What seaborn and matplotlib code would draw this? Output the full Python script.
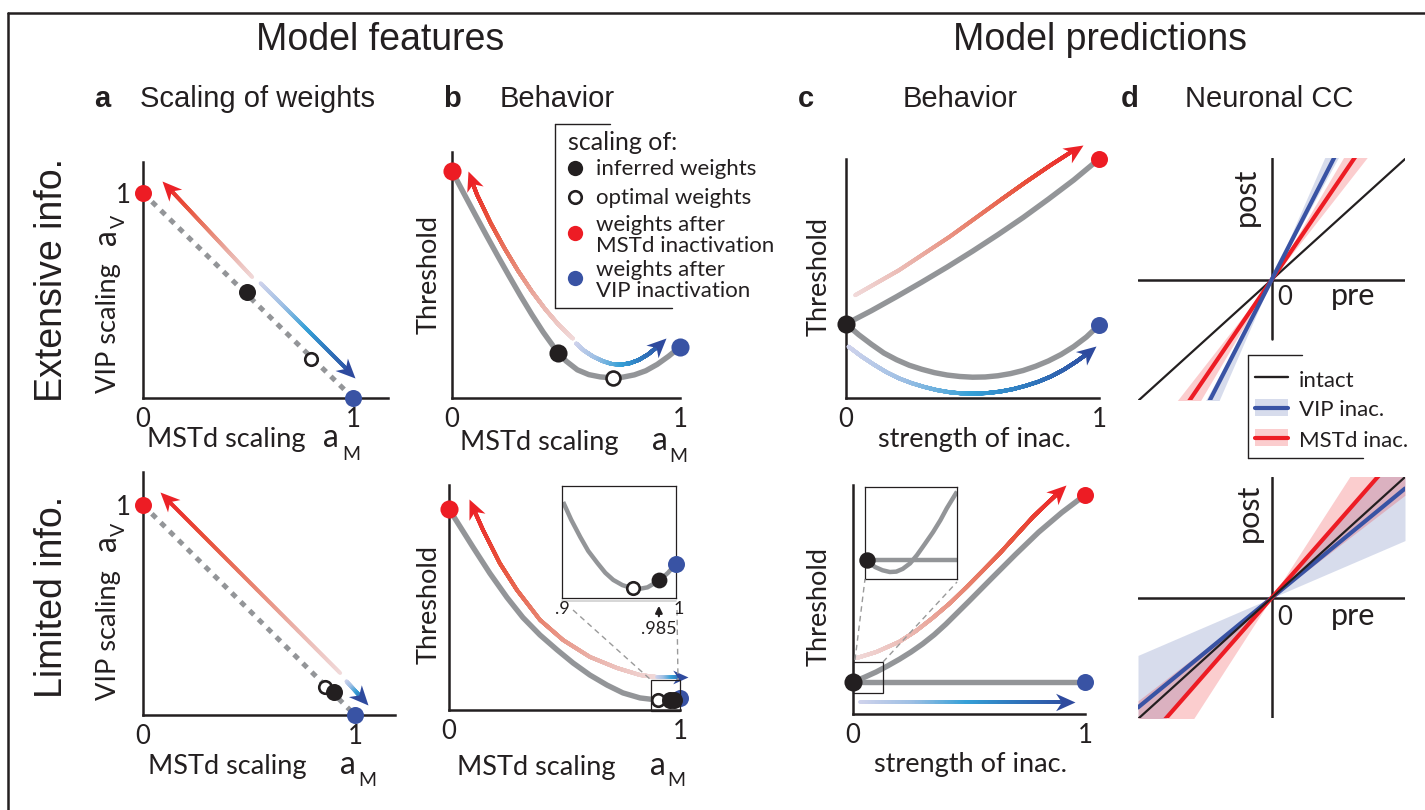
import numpy as np
import matplotlib
matplotlib.use("Agg")
import matplotlib.pyplot as plt
import seaborn as sns
from matplotlib.collections import LineCollection
from matplotlib.colors import LinearSegmentedColormap
from matplotlib.lines import Line2D
from matplotlib.markers import MarkerStyle
from matplotlib.patches import Rectangle, FancyArrowPatch
from matplotlib.path import Path
from matplotlib.transforms import Affine2D

# ========================= DATA =========================
# Panel a: scaling of weights (x = MSTd scaling a_M, y = VIP scaling a_V)
a_line_x = [0.0, 1.0]
a_line_y = [1.0, 0.0]
a_mstd_inac = [0.0, 1.0]
a_vip_inac = [1.0, 0.0]
a_top_inferred = [0.495, 0.515]
a_top_optimal = [0.80, 0.19]
a_top_red_x = [0.52, 0.09]
a_top_red_y = [0.59, 1.06]
a_top_blue_x = [0.56, 1.01]
a_top_blue_y = [0.56, 0.10]
a_bot_inferred = [0.90, 0.11]
a_bot_optimal = [0.86, 0.135]
a_bot_red_x = [0.93, 0.08]
a_bot_red_y = [0.20, 1.06]
a_bot_blue_x = [0.96, 1.06]
a_bot_blue_y = [0.16, 0.05]

# Panel b: threshold vs MSTd scaling
b_top_curve_x = [0.0, 0.05, 0.10, 0.15, 0.20, 0.25, 0.30, 0.35, 0.40, 0.45, 0.50,
                 0.55, 0.60, 0.65, 0.70, 0.75, 0.80, 0.85, 0.90, 0.95, 1.0]
b_top_curve_y = [1.0, 0.905, 0.811, 0.718, 0.627, 0.538, 0.451, 0.368, 0.29, 0.22, 0.163,
                 0.124, 0.103, 0.093, 0.089, 0.092, 0.102, 0.12, 0.148, 0.184, 0.225]
b_top_mstd = [0.0, 1.0]
b_top_vip = [1.0, 0.225]
b_top_inferred = [0.466, 0.2]
b_top_optimal = [0.708, 0.089]
b_top_red_x = [0.53, 0.47, 0.41, 0.35, 0.29, 0.23, 0.17, 0.11, 0.07]
b_top_red_y = [0.262, 0.32, 0.39, 0.47, 0.56, 0.66, 0.77, 0.895, 1.0]
b_top_blue_x = [0.545, 0.58, 0.62, 0.66, 0.70, 0.74, 0.78, 0.82, 0.86, 0.90, 0.94]
b_top_blue_y = [0.24, 0.208, 0.182, 0.163, 0.15, 0.147, 0.153, 0.168, 0.192, 0.225, 0.265]

b_bot_curve_x = [0.0, 0.104, 0.177, 0.251, 0.32, 0.394, 0.468, 0.537, 0.61, 0.684, 0.753, 0.827, 0.9, 1.0]
b_bot_curve_y = [1.0, 0.81, 0.68, 0.56, 0.46, 0.373, 0.299, 0.234, 0.174, 0.124, 0.085, 0.06, 0.05, 0.05]
b_bot_mstd = [0.0, 1.0]
b_bot_vip = [1.0, 0.06]
b_bot_optimal = [0.905, 0.05]
b_bot_inferred_x = [0.955, 0.972]
b_bot_inferred_y = [0.05, 0.05]
b_bot_red_x = [0.90, 0.827, 0.727, 0.61, 0.494, 0.394, 0.294, 0.22, 0.147, 0.087]
b_bot_red_y = [0.164, 0.174, 0.209, 0.264, 0.348, 0.448, 0.597, 0.73, 0.896, 1.05]
b_bot_blue_x = [0.90, 1.035]
b_bot_blue_y = [0.164, 0.164]

# inset of panel b (a_M between .9 and 1)
b_inset_x = [0.901, 0.908, 0.916, 0.923, 0.931, 0.938, 0.945, 0.953, 0.961, 0.968, 0.975, 0.986, 0.993, 0.999]
b_inset_y = [0.857, 0.70, 0.545, 0.42, 0.313, 0.225, 0.161, 0.115, 0.089, 0.082, 0.095, 0.161, 0.225, 0.295]
b_inset_optimal = [0.962, 0.089]
b_inset_inferred = [0.985, 0.16]
b_inset_vip = [1.0, 0.30]
b_inset_ticks = [0.9, 1.0]
b_inset_ticklabels = [".9", "1"]
b_inset_mark = 0.985

# Panel c: threshold vs strength of inactivation
c_top_up_x = [0.0, 0.1, 0.2, 0.3, 0.4, 0.5, 0.6, 0.7, 0.8, 0.9, 1.0]
c_top_up_y = [0.31, 0.365, 0.424, 0.485, 0.548, 0.614, 0.683, 0.755, 0.832, 0.912, 1.0]
c_top_low_x = [0.0, 0.05, 0.1, 0.15, 0.2, 0.25, 0.3, 0.35, 0.4, 0.45, 0.5,
               0.55, 0.6, 0.65, 0.7, 0.75, 0.8, 0.85, 0.9, 0.95, 1.0]
c_top_low_y = [0.31, 0.265, 0.225, 0.188, 0.16, 0.137, 0.12, 0.106, 0.096, 0.09, 0.087,
               0.088, 0.093, 0.102, 0.115, 0.133, 0.155, 0.182, 0.215, 0.255, 0.305]
c_top_intact = [0.0, 0.31]
c_top_mstd = [1.0, 1.0]
c_top_vip = [1.0, 0.305]
c_top_red_x = [0.036, 0.21, 0.41, 0.61, 0.71, 0.81, 0.935]
c_top_red_y = [0.43, 0.535, 0.675, 0.828, 0.903, 0.975, 1.06]
c_top_blue_x = [0.01, 0.06, 0.11, 0.16, 0.21, 0.26, 0.31, 0.36, 0.41, 0.46, 0.51,
                0.56, 0.61, 0.66, 0.71, 0.76, 0.81, 0.86, 0.91, 0.96, 0.99]
c_top_blue_y = [0.215, 0.175, 0.14, 0.108, 0.082, 0.062, 0.046, 0.033, 0.024, 0.019, 0.018,
                0.021, 0.027, 0.037, 0.051, 0.068, 0.09, 0.118, 0.152, 0.19, 0.218]

c_bot_up_x = [0.0, 0.05, 0.1, 0.15, 0.2, 0.25, 0.3, 0.35, 0.4, 0.5, 0.6, 0.7, 0.8, 0.9, 1.0]
c_bot_up_y = [0.146, 0.168, 0.192, 0.22, 0.25, 0.283, 0.32, 0.362, 0.41, 0.515, 0.622, 0.728, 0.83, 0.92, 1.0]
c_bot_flat_x = [0.0, 1.0]
c_bot_flat_y = [0.146, 0.146]
c_bot_intact = [0.0, 0.146]
c_bot_mstd = [1.0, 1.0]
c_bot_vip = [1.0, 0.146]
c_bot_red_x = [0.017, 0.1, 0.2, 0.27, 0.345, 0.42, 0.49, 0.56, 0.634, 0.705, 0.776, 0.85, 0.92]
c_bot_red_y = [0.256, 0.283, 0.33, 0.378, 0.44, 0.508, 0.58, 0.655, 0.735, 0.818, 0.90, 0.975, 1.045]
c_bot_blue_x = [0.03, 0.957]
c_bot_blue_y = [0.055, 0.055]

# inset of panel c (zoom near strength 0)
c_inset_flat_x = [0.02, 1.0]
c_inset_flat_y = [0.21, 0.21]
c_inset_curve_x = [0.02, 0.07, 0.11, 0.19, 0.27, 0.34, 0.41, 0.49, 0.565, 0.65, 0.74, 0.82, 0.89, 1.0]
c_inset_curve_y = [0.21, 0.16, 0.13, 0.095, 0.076, 0.08, 0.11, 0.17, 0.26, 0.38, 0.51, 0.64, 0.77, 0.95]
c_inset_intact = [0.02, 0.21]

# Panel d: neuronal CC, slopes of post vs pre
d_pre = [-1.0, 0.0, 1.0]
d_top_slope = {"intact": 0.906, "vip": 1.95, "mstd": 1.47}
d_top_band = {"vip": (1.83, 2.3), "mstd": (1.28, 1.70)}
d_bot_slope = {"intact": 0.906, "vip": 0.82, "mstd": 1.14}
d_bot_band = {"vip": (0.43, 1.14), "mstd": (0.77, 1.55)}

legend_b_labels = ["inferred weights", "optimal weights",
                   "weights after\nMSTd inactivation", "weights after\nVIP inactivation"]
legend_d_labels = ["intact", "VIP inac.", "MSTd inac."]

# ========================= STYLE =========================
W, H, DPI = 1425, 810, 100
GRAY = "#939598"
BLACK = "#231f20"
RED = "#ed1c24"
BLUE = "#3953a4"
RED_CM = LinearSegmentedColormap.from_list(
    "redgrad", ["#f1dada", "#eab3ab", "#e8826e", "#e8503a", "#ec2227"])
BLUE_CM = LinearSegmentedColormap.from_list(
    "bluegrad", ["#d0d3ec", "#9dbfe4", "#35a0d7", "#2f72ba", "#2e4a9e"])

sns.set_theme(style="white")
plt.rcParams["font.family"] = ["Lato", "DejaVu Sans"]
plt.rcParams["text.color"] = BLACK
HELV = ["Liberation Sans", "DejaVu Sans"]

fig = plt.figure(figsize=(W / DPI, H / DPI), dpi=DPI)
fig.patch.set_facecolor("white")


def fx(x):
    return x / W


def fy(y):
    return 1 - y / H


def px_axes(x0, y0, x1, y1):
    return fig.add_axes([x0 / W, 1 - y1 / H, (x1 - x0) / W, (y1 - y0) / H])


def ftext(x, y, s, **kw):
    kw.setdefault("ha", "center")
    kw.setdefault("va", "center")
    return fig.text(fx(x), fy(y), s, **kw)


def fline(xs, ys, **kw):
    kw.setdefault("color", BLACK)
    fig.add_artist(Line2D([fx(v) for v in xs], [fy(v) for v in ys],
                          transform=fig.transFigure, **kw))


def frect(x0, y0, x1, y1, **kw):
    fig.add_artist(Rectangle((fx(x0), fy(y1)), (x1 - x0) / W, (y1 - y0) / H,
                             transform=fig.transFigure, **kw))


def style_axes(ax, xlim, ylim, xticks=(0, 1), yticks=()):
    ax.set_xlim(*xlim)
    ax.set_ylim(*ylim)
    ax.set_autoscale_on(False)
    ax.set_facecolor("none")
    for s in ("top", "right"):
        ax.spines[s].set_visible(False)
    for s in ("left", "bottom"):
        ax.spines[s].set_linewidth(1.8)
        ax.spines[s].set_color(BLACK)
    ax.set_xticks(list(xticks))
    ax.set_xticklabels([f"{v:g}" for v in xticks])
    ax.set_yticks(list(yticks))
    ax.set_yticklabels([f"{v:g}" for v in yticks])
    ax.tick_params(axis="x", length=0, pad=6.5, labelsize=18.5, colors=BLACK)
    ax.tick_params(axis="y", length=0, pad=9, labelsize=18.5, colors=BLACK)
    ax.set_xlabel("")
    ax.set_ylabel("")


def gray_curve(ax, xs, ys, lw=3.9, z=2):
    sns.lineplot(x=xs, y=ys, ax=ax, color=GRAY, linewidth=lw, sort=False,
                 estimator=None, zorder=z, solid_capstyle="butt", solid_joinstyle="round")


def dot(ax, xy, color, s=150, z=6):
    sns.scatterplot(x=[xy[0]], y=[xy[1]], ax=ax, color=color, s=s,
                    linewidth=0, zorder=z, clip_on=False, legend=False)


def open_dot(ax, xy, ms=9.5, z=6):
    ax.plot([xy[0]], [xy[1]], ls="none", marker="o", ms=ms, mfc="white",
            mec=BLACK, mew=1.9, zorder=z, clip_on=False)


HEAD = Path([(0, 0), (-1.6, 0.72), (-1.12, 0), (-1.6, -0.72), (0, 0)],
            [Path.MOVETO, Path.LINETO, Path.LINETO, Path.LINETO, Path.CLOSEPOLY])


def grad_arrow(ax, xs, ys, cmap, lw=2.8, head=True, hs=28):
    xs = np.asarray(xs, float)
    ys = np.asarray(ys, float)
    t = np.linspace(0, 1, 150, endpoint=False)
    px = np.concatenate([xs[i] + (xs[i + 1] - xs[i]) * t for i in range(len(xs) - 1)] + [xs[-1:]])
    py = np.concatenate([ys[i] + (ys[i + 1] - ys[i]) * t for i in range(len(ys) - 1)] + [ys[-1:]])
    pts = np.column_stack([px, py])
    disp = ax.transData.transform(pts)
    d = np.concatenate([[0], np.cumsum(np.hypot(*np.diff(disp, axis=0).T))])
    L = d[-1]
    trim = 0.3 * hs * DPI / 72 if head else 0
    keep = d <= L - trim
    p = pts[keep]
    f = d[keep] / L
    segs = np.stack([p[:-1], p[1:]], axis=1)
    cols = cmap(0.5 * (f[:-1] + f[1:]))
    lc = LineCollection(segs, colors=cols, linewidths=lw, capstyle="round",
                        clip_on=False, zorder=3)
    ax.add_collection(lc)
    if head:
        j = np.searchsorted(d, L - 16)
        v = disp[-1] - disp[j]
        ang = np.degrees(np.arctan2(v[1], v[0]))
        mk = MarkerStyle(HEAD, transform=Affine2D().rotate_deg(ang))
        ax.plot([xs[-1]], [ys[-1]], ls="none", marker=mk, ms=hs, mfc=cmap(1.0),
                mec="none", mew=0, clip_on=False, zorder=4)


# ========================= FRAME & TITLES =========================
fline([8, 1425], [13, 13], lw=1.8)
fline([8, 8], [13, 810], lw=1.8)

ftext(380, 40, "Model features", size=27, family=HELV)
ftext(1100, 40, "Model predictions", size=27, family=HELV)
for letter, lx, title, tx in (("a", 102, "Scaling of weights", 140),
                              ("b", 452, "Behavior", 500),
                              ("c", 806, "Behavior", 903),
                              ("d", 1130, "Neuronal CC", 1185)):
    ftext(lx, 107, letter, va="baseline", size=21, weight="bold", family=HELV)
    ftext(tx, 107, title, ha="left", va="baseline", size=21, family=HELV)

ftext(62, 280, "Extensive info.", rotation=90, rotation_mode="anchor",
      va="baseline", size=27, family=HELV)
ftext(62, 597, "Limited info.", rotation=90, rotation_mode="anchor",
      va="baseline", size=27, family=HELV)

# ========================= PANEL a =========================
for (y0, y1, xend, sc_x, sc_y, inf, opt, rx, ry, bx, by) in (
        (162, 398, 388, 210, 205, a_top_inferred, a_top_optimal,
         a_top_red_x, a_top_red_y, a_top_blue_x, a_top_blue_y),
        (472, 715, 395, 212, 210, a_bot_inferred, a_bot_optimal,
         a_bot_red_x, a_bot_red_y, a_bot_blue_x, a_bot_blue_y)):
    ax = px_axes(143, y0, xend, y1)
    style_axes(ax, (0, (xend - 143) / sc_x), (0, (y1 - y0) / sc_y), yticks=(1,))
    ax.plot(a_line_x, a_line_y, color=GRAY, lw=3.6, ls=(0, (1.2, 1.3)),
            solid_capstyle="butt", zorder=2)
    open_dot(ax, opt, ms=9)
    dot(ax, inf, BLACK)
    dot(ax, a_mstd_inac, RED)
    dot(ax, a_vip_inac, BLUE)
    style_axes(ax, (0, (xend - 143) / sc_x), (0, (y1 - y0) / sc_y), yticks=(1,))
    grad_arrow(ax, rx, ry, RED_CM)
    grad_arrow(ax, bx, by, BLUE_CM)

for base, sub, xs, xa, xm, vb, vy, ay, vsy in ((447, 460, 147, 323, 342, 116, 328, 237, 221),
                                              (774, 786, 148, 340, 358, 116, 635, 543, 529)):
    ftext(xs, base, "MSTd scaling", ha="left", va="baseline", size=19.5)
    ftext(xa, base, "a", ha="left", va="baseline", size=23)
    ftext(xm, sub, "M", ha="left", va="baseline", size=14)
    ftext(vb, vy, "VIP scaling", rotation=90, rotation_mode="anchor", va="baseline", size=19.5)
    ftext(vb, ay, "a", rotation=90, rotation_mode="anchor", va="baseline", size=23)
    ftext(vb + 9, vsy, "V", rotation=90, rotation_mode="anchor", va="baseline", size=14)

# ========================= PANEL b =========================
ax = px_axes(452, 152, 680, 398)
style_axes(ax, (0, 1), (0, 246 / 227))
gray_curve(ax, b_top_curve_x, b_top_curve_y)
dot(ax, b_top_inferred, BLACK, s=170)
open_dot(ax, b_top_optimal, ms=10)
dot(ax, b_top_mstd, RED, s=170)
dot(ax, b_top_vip, BLUE, s=170)
style_axes(ax, (0, 1), (0, 246 / 227))
grad_arrow(ax, b_top_red_x, b_top_red_y, RED_CM)
grad_arrow(ax, b_top_blue_x, b_top_blue_y, BLUE_CM)

ax = px_axes(449, 485, 680, 710)
style_axes(ax, (0, 1), (0, 225 / 201))
gray_curve(ax, b_bot_curve_x, b_bot_curve_y)
open_dot(ax, b_bot_optimal, ms=9)
for xv, yv in zip(b_bot_inferred_x, b_bot_inferred_y):
    dot(ax, [xv, yv], BLACK, s=150)
dot(ax, b_bot_vip, BLUE, s=150, z=5)
dot(ax, b_bot_mstd, RED, s=170)
style_axes(ax, (0, 1), (0, 225 / 201))
grad_arrow(ax, b_bot_red_x, b_bot_red_y, RED_CM)
grad_arrow(ax, b_bot_blue_x, b_bot_blue_y, BLUE_CM, hs=22)

# inset in panel b
axi = px_axes(562, 486, 676, 598)
axi.set_xlim(0.9, 1.0)
axi.set_ylim(0, 1)
axi.set_autoscale_on(False)
gray_curve(axi, b_inset_x, b_inset_y, lw=3.2)
open_dot(axi, b_inset_optimal, ms=9)
dot(axi, b_inset_inferred, BLACK, s=130)
dot(axi, b_inset_vip, BLUE, s=150)
axi.set_xlim(0.9, 1.0)
axi.set_ylim(0, 1)
axi.set_xticks([])
axi.set_yticks([])
axi.set_xlabel("")
axi.set_ylabel("")
for s in axi.spines.values():
    s.set_linewidth(0.9)
    s.set_color(BLACK)
fline([562, 676], [601, 601], color="#cfcfcf", lw=1.2)
for tv, tl in zip(b_inset_ticks, b_inset_ticklabels):
    ftext(562 + (tv - 0.9) / 0.1 * 114 + (0 if tv < 1 else 3), 609, tl, size=13)
mx = 562 + (b_inset_mark - 0.9) / 0.1 * 114
fig.add_artist(FancyArrowPatch((fx(mx), fy(619)), (fx(mx), fy(603)), transform=fig.transFigure,
                               arrowstyle="-|>", mutation_scale=10, lw=1.6, color=BLACK))
ftext(mx, 629, ".985", size=13)
frect(651, 680, 680, 711, fill=False, ec=BLACK, lw=0.9, zorder=1)
fline([573, 651], [610, 680], color="#9a9a9a", lw=1.0, ls=(0, (4, 3)))
fline([677, 678], [610, 680], color="#9a9a9a", lw=1.0, ls=(0, (4, 3)))

# legend of panel b
fline([555, 610], [124, 124], lw=1.0)
fline([555, 555], [124, 308], lw=1.0)
fline([555, 672], [308, 308], lw=1.0)
ftext(568, 150, "scaling of:", ha="left", va="baseline", size=18)
leg_y = [168, 197, 233, 278]
leg_base = [[175], [204], [231, 252], [276, 297]]
for i, (lab, yy, bases) in enumerate(zip(legend_b_labels, leg_y, leg_base)):
    if i == 1:
        fig.add_artist(Line2D([fx(575)], [fy(yy)], ls="none", marker="o", ms=9, mfc="white",
                              mec=BLACK, mew=1.9, transform=fig.transFigure))
    else:
        fig.add_artist(Line2D([fx(575)], [fy(yy)], ls="none", marker="o", ms=11,
                              mfc=[BLACK, None, RED, BLUE][i], mec="none",
                              transform=fig.transFigure))
    for line, b in zip(lab.split("\n"), bases):
        ftext(596, b, line, ha="left", va="baseline", size=16)

for base, sub, xs, xa, xm in ((450, 462, 460, 652, 669), (775, 786, 457, 650, 667)):
    ftext(xs, base, "MSTd scaling", ha="left", va="baseline", size=19.5)
    ftext(xa, base, "a", ha="left", va="baseline", size=23)
    ftext(xm, sub, "M", ha="left", va="baseline", size=14)
ftext(437, 275, "Threshold", rotation=90, rotation_mode="anchor", va="baseline", size=19.5)
ftext(437, 605, "Threshold", rotation=90, rotation_mode="anchor", va="baseline", size=19.5)

# ========================= PANEL c =========================
ax = px_axes(846, 159, 1099, 398)
style_axes(ax, (0, 1), (0, 1))
gray_curve(ax, c_top_up_x, c_top_up_y)
gray_curve(ax, c_top_low_x, c_top_low_y)
dot(ax, c_top_intact, BLACK, s=170)
dot(ax, c_top_mstd, RED, s=150)
dot(ax, c_top_vip, BLUE, s=150)
style_axes(ax, (0, 1), (0, 1))
grad_arrow(ax, c_top_red_x, c_top_red_y, RED_CM)
grad_arrow(ax, c_top_blue_x, c_top_blue_y, BLUE_CM)

ax = px_axes(853, 485, 1085, 714)
style_axes(ax, (0, 1), (0, 229 / 219))
gray_curve(ax, c_bot_up_x, c_bot_up_y)
gray_curve(ax, c_bot_flat_x, c_bot_flat_y)
dot(ax, c_bot_intact, BLACK, s=170)
dot(ax, c_bot_mstd, RED, s=150)
dot(ax, c_bot_vip, BLUE, s=150)
style_axes(ax, (0, 1), (0, 229 / 219))
grad_arrow(ax, c_bot_red_x, c_bot_red_y, RED_CM)
grad_arrow(ax, c_bot_blue_x, c_bot_blue_y, BLUE_CM)

axi = px_axes(865, 487, 957, 579)
axi.set_xlim(0, 1)
axi.set_ylim(0, 1)
axi.set_autoscale_on(False)
gray_curve(axi, c_inset_flat_x, c_inset_flat_y, lw=3.2)
gray_curve(axi, c_inset_curve_x, c_inset_curve_y, lw=3.2)
dot(axi, c_inset_intact, BLACK, s=140)
axi.set_xlim(0, 1)
axi.set_ylim(0, 1)
axi.set_xticks([])
axi.set_yticks([])
axi.set_xlabel("")
axi.set_ylabel("")
for s in axi.spines.values():
    s.set_linewidth(0.9)
    s.set_color(BLACK)
frect(853, 662, 883, 693, fill=False, ec=BLACK, lw=0.9, zorder=1)
fline([855, 865], [660, 579], color="#9a9a9a", lw=1.0, ls=(0, (4, 3)))
fline([883, 957], [662, 582], color="#9a9a9a", lw=1.0, ls=(0, (4, 3)))

ftext(827, 277, "Threshold", rotation=90, rotation_mode="anchor", va="baseline", size=19.5)
ftext(827, 607, "Threshold", rotation=90, rotation_mode="anchor", va="baseline", size=19.5)
ftext(975, 447, "strength of inac.", va="baseline", size=19.5)
ftext(971, 772, "strength of inac.", va="baseline", size=19.5)


# ========================= PANEL d =========================
def cc_panel(y0, y1, yaxis_low, slopes, bands, order):
    ax = px_axes(1138, y0, 1405, y1)
    u = 133.5
    ax.set_xlim(-1, 1)
    ax.set_ylim(-(y1 - yaxis_low[1]) / u, (yaxis_low[1] - y0) / u)
    ax.set_autoscale_on(False)
    ax.set_facecolor("none")
    for s in ax.spines.values():
        s.set_visible(False)
    ax.set_xticks([])
    ax.set_yticks([])
    x = np.array(d_pre)
    for key, col, al in (("vip", BLUE, 0.2), ("mstd", RED, 0.22)):
        lo, hi = bands[key]
        ax.fill_between(x, np.where(x < 0, hi * x, lo * x), np.where(x < 0, lo * x, hi * x),
                        color=col, alpha=al, linewidth=0, zorder=1)
    ax.axhline(0, color=BLACK, lw=1.8, zorder=2)
    ax.axvline(0, ymin=(y1 - yaxis_low[0]) / (y1 - y0), ymax=1, color=BLACK, lw=1.8, zorder=2)
    for key in order:
        col = {"intact": BLACK, "vip": BLUE, "mstd": RED}[key]
        lw = 1.6 if key == "intact" else 3.0
        sns.lineplot(x=x, y=slopes[key] * x, ax=ax, color=col, linewidth=lw,
                     sort=False, estimator=None, zorder=3)
    ax.set_xlim(-1, 1)
    ax.set_xlabel("")
    ax.set_ylabel("")
    return ax


cc_panel(158, 400, (339, 280), d_top_slope, d_top_band, ("intact", "mstd", "vip"))
cc_panel(477, 718, (718, 598), d_bot_slope, d_bot_band, ("vip", "mstd", "intact"))

for pb, py_, base in ((1255, 197, 305), (1258, 513, 625)):
    ftext(pb, py_, "post", rotation=90, rotation_mode="anchor", va="baseline", size=22)
    ftext(1277, base, "0", ha="left", va="baseline", size=18.5)
    ftext(1331, base, "pre", ha="left", va="baseline", size=22)

# legend of panel d
fline([1248, 1302], [355, 355], lw=1.0)
fline([1248, 1248], [355, 458], lw=1.0)
fline([1248, 1363], [458, 458], lw=1.0)
frect(1255, 399, 1288, 416, color=BLUE, alpha=0.2, lw=0)
frect(1255, 429, 1288, 446, color=RED, alpha=0.22, lw=0)
fline([1255, 1288], [377, 377], lw=1.7, color=BLACK)
fline([1255, 1288], [408, 408], lw=3.0, color=BLUE)
fline([1255, 1288], [438, 438], lw=3.0, color=RED)
for lab, b in zip(legend_d_labels, (387, 416, 447)):
    ftext(1299, b, lab, ha="left", va="baseline", size=16)

fig.savefig("out.png", dpi=DPI, facecolor="white")
